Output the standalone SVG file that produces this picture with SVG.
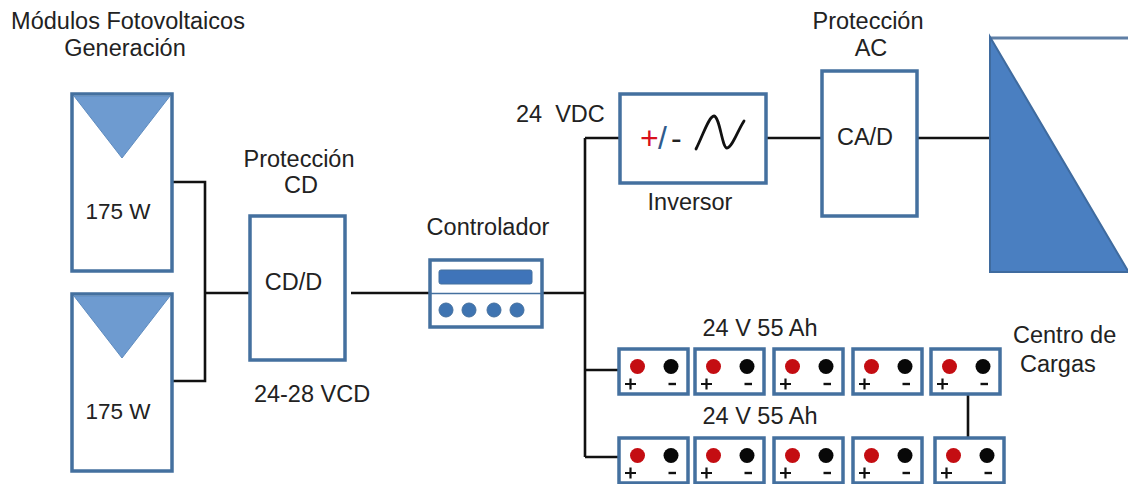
<svg xmlns="http://www.w3.org/2000/svg" xmlns:xlink="http://www.w3.org/1999/xlink" width="1128" height="484" viewBox="0 0 1128 484">
<style>
text{font-family:"Liberation Sans",Arial,sans-serif;font-size:23.5px;fill:#222;white-space:pre}
.m{text-anchor:middle}
.box{fill:#fff;stroke:#44709f;stroke-width:3.5}
.tri{fill:#6e9bd0;stroke:#5f8cbf;stroke-width:1}
.w{fill:none;stroke:#111;stroke-width:2.6}
.bat{fill:#fff;stroke:#44709f;stroke-width:3.5}
.r{fill:#c40d12}.k{fill:#080808}
.dot{fill:#3f74b1;stroke:#44709f}
.n{font-size:22.500px}
.g{font-size:32px}
</style>
<defs>
<g id="battery">
<rect class="bat" x="0" y="0" width="69" height="45"/>
<circle class="r" cx="18.500" cy="17.500" r="7.500"/><circle class="k" cx="52" cy="17.500" r="7.500"/>
<path d="M6 35h11M11.500 29.500v11" stroke="#111" stroke-width="2.200" fill="none"/>
<path d="M49.500 35h7.500" stroke="#111" stroke-width="2.400" fill="none"/>
</g>
</defs>
<rect width="1128" height="484" fill="#fff"/>
<g id="connectors">
<path class="w" d="M172 182H205V381H172M205 293H250M351 293H430M542 293H585M585 138V457M585 138H620M766 138H822M912 138H990M585 370H619M585 457H619M968 394V437"/>
</g>
<g id="pv1"><rect class="box" x="72" y="94" width="100" height="177"/><path class="tri" d="M74 96H170L122 158Z"/><text class="m n" x="118" y="219">175 W</text></g>
<g id="pv2"><rect class="box" x="72" y="294" width="100" height="177"/><path class="tri" d="M74 296H170L122 358Z"/><text class="m n" x="118" y="419">175 W</text></g>
<g id="pv-label"><text class="m" x="128" y="29">Módulos Fotovoltaicos</text><text class="m" x="125" y="56">Generación</text></g>
<g id="prot-cd"><rect class="box" x="250" y="216" width="95" height="144"/><text class="m" x="293.500" y="290">CD/D</text><text class="m" x="299" y="167">Protección</text><text class="m" x="301" y="193">CD</text><text class="m" x="312" y="402">24-28 VCD</text></g>
<g id="controlador"><rect class="box" x="430" y="260" width="112" height="67"/><path d="M430 293.500H542" stroke="#44709f" stroke-width="1.500"/><rect x="439" y="270" width="93" height="14" rx="2" fill="#3f74b9" stroke="#44709f"/><circle class="dot" cx="446" cy="310" r="7"/><circle class="dot" cx="469" cy="310" r="7"/><circle class="dot" cx="494" cy="310" r="7"/><circle class="dot" cx="517" cy="310" r="7"/><text class="m" x="488" y="235">Controlador</text></g>
<g id="inversor"><rect class="box" x="620" y="94" width="146" height="89"/>
<text x="640" y="149" class="g" style="fill:#d8101c">+</text><text x="658" y="149" class="g" style="fill:#2f5b8c">/</text><text x="671" y="149" class="g" style="fill:#222">-</text>
<path d="M696 149C703 135 709 116 714 116C720 117 722 148 727 148C732 148 738 130 744 121" fill="none" stroke="#111" stroke-width="2.800" stroke-linecap="round"/>
<text class="m" x="690" y="210">Inversor</text><text x="516" y="122">24  VDC</text></g>
<g id="prot-ac"><rect class="box" x="822" y="71" width="95" height="145"/><text class="m" x="865" y="145">CA/D</text><text class="m" x="868" y="29">Protección</text><text class="m" x="871" y="56">AC</text></g>
<g id="carga"><path d="M990 38H1128" stroke="#5f7fa5" stroke-width="3"/><path d="M990 37L1128 271V272H990Z" fill="#4a7fc1" stroke="#3f6b9f" stroke-width="2"/></g>
<g id="bat-top"><use href="#battery" x="619" y="349"/><use href="#battery" x="695" y="349"/><use href="#battery" x="774" y="349"/><use href="#battery" x="853" y="349"/><use href="#battery" x="931" y="349"/></g>
<g id="bat-bottom"><use href="#battery" x="619" y="438"/><use href="#battery" x="695" y="438"/><use href="#battery" x="774" y="438"/><use href="#battery" x="853" y="438"/><use href="#battery" x="935" y="438"/></g>
<g id="labels"><text class="m" x="760" y="336">24 V 55 Ah</text><text class="m" x="760" y="424">24 V 55 Ah</text><text x="1013" y="343">Centro de</text><text x="1020" y="372">Cargas</text></g>
</svg>
